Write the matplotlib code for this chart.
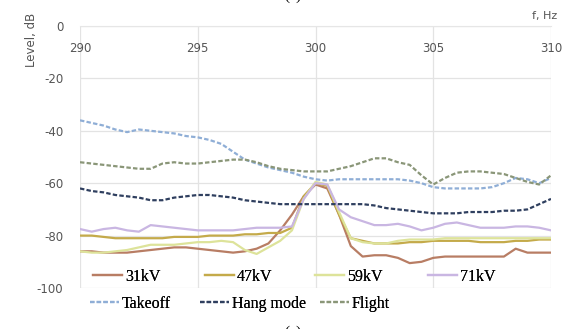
import numpy as np
import matplotlib
matplotlib.use('Agg')
import matplotlib.pyplot as plt

plt.rcParams['axes.unicode_minus'] = False

# frequency grid, Hz
freq = np.arange(290, 310.01, 0.5)

kv31 = [-86, -86, -86.5, -86.5, -86.5, -86, -85.5, -85, -84.5, -84.5, -85, -85.5, -86, -86.5, -86, -85,
        -83, -78, -72, -65, -60.5, -62, -72, -84, -88, -87.5, -87.5, -88.5, -90.5, -90, -88.5, -88, -88,
        -88, -88, -88, -88, -85, -86.5, -86.5, -86.5]
kv47 = [-80, -80, -80.5, -81, -81, -81, -81, -81, -80.5, -80.5, -80.5, -80, -80, -80, -79.5, -79.5,
        -79, -79, -77, -65, -60, -61, -72, -81, -82, -83, -83, -83, -82.5, -82.5, -82, -82, -82, -82,
        -82.5, -82.5, -82.5, -82, -82, -81.5, -81.5]
kv59 = [-86, -86.5, -86.5, -86, -85.5, -84.5, -83.5, -83.5, -83.5, -83, -82.5, -82.5, -82, -82.5, -85.5,
        -87, -84.5, -82, -78, -66, -59.5, -60.5, -71, -81, -82.5, -83, -83, -82, -81.5, -81.5, -81.5,
        -81, -81, -81, -81, -81, -81, -81, -81, -81, -81]
kv71 = [-77.5, -78.5, -77.5, -77, -78, -78.5, -76, -76.5, -77, -77.5, -78, -78, -78, -78, -77.5, -77,
        -77, -77, -76.5, -66, -60, -60.5, -70, -73, -74.5, -76, -76, -75.5, -76.5, -78, -77, -75.5, -75,
        -76, -77, -77, -77, -76.5, -76.5, -77, -78]
takeoff = [-36, -37, -38, -39.5, -40.5, -39.5, -40, -40.5, -41, -42, -42.5, -43.5, -45, -48, -51, -52.5,
           -54, -55, -56, -57.5, -58.5, -59, -58.5, -58.5, -58.5, -58.5, -58.5, -58.5, -59, -60, -61.5,
           -62, -62, -62, -62, -61.5, -60, -58, -58.5, -60, -58]
hang = [-62, -63, -63.5, -64.5, -65, -65.5, -66.5, -66.5, -65.5, -65, -64.5, -64.5, -65, -65.5, -66.5,
        -67, -67.5, -68, -68, -68, -68, -68, -68, -68, -68, -68.5, -69.5, -70, -70.5, -71, -71.5, -71.5,
        -71.5, -71, -71, -71, -70.5, -70.5, -70, -68, -66]
flight = [-52, -52.5, -53, -53.5, -54, -54.5, -54.5, -52.5, -52, -52.5, -52.5, -52, -51.5, -51, -51, -52,
          -53.5, -54.5, -55, -55.5, -55.5, -55.5, -54.5, -53.5, -52, -50.5, -50.5, -52, -53, -57, -60.5,
          -58, -56, -55.5, -55.5, -56, -56.5, -58, -59.5, -60.5, -57]

xticks = [290, 295, 300, 305, 310]
yticks = [0, -20, -40, -60, -80, -100]

fig = plt.figure(figsize=(5.71, 3.29), dpi=100)
ax = fig.add_axes([80 / 571, 1 - 288 / 329, 471 / 571, 262 / 329])

solid = [(kv31, '31kV', '#b87d64'), (kv47, '47kV', '#c4aa4a'),
         (kv59, '59kV', '#dde39a'), (kv71, '71kV', '#c9b6e2')]
dashed = [(takeoff, 'Takeoff', '#8faed6'), (hang, 'Hang mode', '#2f3f5f'),
          (flight, 'Flight', '#8a9678')]

lines = []
for vals, lab, col in solid:
    ln, = ax.plot(freq, vals, color=col, lw=1.6, label=lab)
    lines.append(ln)
for vals, lab, col in dashed:
    ln, = ax.plot(freq, vals, color=col, lw=1.6, ls=(0, (2, 1)), label=lab)
    lines.append(ln)

ax.set_xlim(290, 310)
ax.set_ylim(-100, 0)
ax.set_xticks(xticks)
ax.set_yticks(yticks)
ax.grid(True, color='#e3e3e3', lw=0.9)
for s in ['left', 'right', 'bottom']:
    ax.spines[s].set_visible(False)
ax.spines['top'].set_color('#e6e6e6')
ax.xaxis.tick_top()
ax.tick_params(axis='x', length=0, pad=-11.5, labelsize=8.5, labelcolor='#555555')
ax.tick_params(axis='y', length=0, pad=12, labelsize=8.5, labelcolor='#555555')
for t in ax.get_xticklabels():
    t.set_verticalalignment('top')

fig.text(32 / 571, 1 - 40 / 329, 'Level, dB', rotation=90, ha='center', va='center',
         fontsize=8.5, color='#555555')
fig.text(545 / 571, 1 - 16 / 329, 'f, Hz', ha='center', va='center', fontsize=8, color='#555555')
fig.text(293 / 571, 1 + 4 / 329, '(c)', ha='center', va='center', fontsize=11, family='Liberation Serif')
fig.text(293 / 571, 1 - 332 / 329, '(c)', ha='center', va='center', fontsize=11, family='Liberation Serif')

# legend entries placed one by one, two rows
leg_font = {'family': 'Liberation Serif', 'size': 11.5}
leg_pos = [(93, 277), (205, 277), (315, 277), (428, 277), (90, 304), (200, 304), (320, 304)]
for ln, (px, py) in zip(lines, leg_pos):
    lg = fig.legend(handles=[ln], loc='center left', bbox_to_anchor=(px / 571, 1 - py / 329),
                    frameon=False, prop=leg_font, handlelength=1.8, handletextpad=0.2,
                    borderaxespad=0, borderpad=0)
    fig.add_artist(lg)

fig.savefig('out.png', dpi=100)
